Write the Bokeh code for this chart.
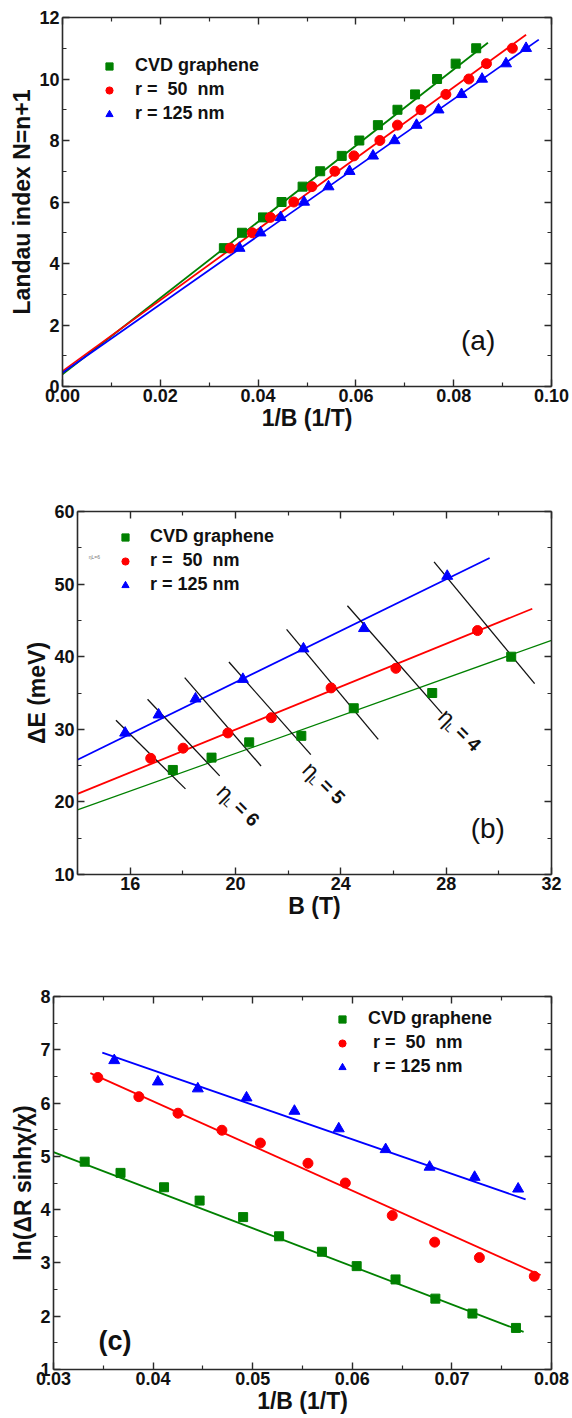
import math
from bokeh.plotting import figure
from bokeh.models import (LinearAxis, Range1d, Legend, LegendItem, Label,
                          CustomJSTickFormatter, FixedTicker, PrintfTickFormatter)
from bokeh.layouts import column
from bokeh.embed import file_html
from bokeh.resources import INLINE

FONT = "Liberation Sans"
GREEN = "#008000"
RED = "#ff0000"
BLUE = "#0000ff"
AXC = "#2a2a2a"

# ---------------- Panel (a) data ----------------
a_levels = [4.5, 5.0, 5.5, 6.0, 6.5, 7.0, 7.5, 8.0, 8.5, 9.0, 9.5, 10.0, 10.5, 11.0]
a_cvd_x = [0.0330, 0.0367, 0.0410, 0.0448, 0.0491, 0.0527, 0.0571, 0.0607,
           0.0645, 0.0685, 0.0721, 0.0766, 0.0804, 0.0846]
a_r50_x = [0.0343, 0.0388, 0.0425, 0.0473, 0.0510, 0.0557, 0.0596, 0.0649,
           0.0685, 0.0733, 0.0784, 0.0831, 0.0867, 0.0920]
a_r125_x = [0.0362, 0.0405, 0.0446, 0.0494, 0.0544, 0.0587, 0.0635, 0.0679,
            0.0724, 0.0769, 0.0816, 0.0858, 0.0907, 0.0948]
# linear fits: N = intercept + slope * (1/B), drawn from 0 to xmax
a_fit_slope = [123.9, 115.4, 111.2]
a_fit_intercept = [0.40, 0.50, 0.45]
a_fit_xmax = [0.0870, 0.0948, 0.0974]

# ---------------- Panel (b) data ----------------
b_cvd_x = [17.62, 19.09, 20.52, 22.50, 24.49, 27.47, 30.47]
b_cvd_y = [24.4, 26.1, 28.2, 29.1, 32.9, 35.0, 40.0]
b_r50_x = [16.78, 18.01, 19.71, 21.36, 23.63, 26.09, 29.19]
b_r50_y = [26.0, 27.4, 29.5, 31.6, 35.7, 38.4, 43.6]
b_r125_x = [15.81, 17.08, 18.48, 20.28, 22.58, 24.88, 28.04]
b_r125_y = [29.5, 32.0, 34.2, 36.9, 41.1, 43.9, 51.1]
b_fit_slope = [1.297, 1.477, 1.776]
b_fit_intercept = [0.74, 0.42, 0.94]
b_fit_xmin = [14.0, 14.0, 14.0]
b_fit_xmax = [32.0, 31.27, 29.65]
# black filling-factor lines
nl_x0 = [15.46, 16.66, 18.07, 19.75, 21.94, 24.25, 27.54]
nl_y0 = [31.24, 34.13, 37.11, 39.27, 43.76, 47.02, 53.07]
nl_x1 = [18.10, 19.40, 20.97, 22.86, 25.42, 27.85, 31.36]
nl_y1 = [21.79, 23.58, 24.95, 26.51, 28.62, 32.16, 36.28]
nl_text = ["6", "5", "4"]
nl_text_x = [19.45, 22.70, 27.86]
nl_text_y = [21.95, 25.00, 32.30]

# ---------------- Panel (c) data ----------------
c_cvd_x = [0.03313, 0.03673, 0.04110, 0.04467, 0.04904, 0.05265, 0.05695,
           0.06044, 0.06434, 0.06834, 0.07206, 0.07643]
c_cvd_y = [4.90, 4.69, 4.42, 4.17, 3.86, 3.50, 3.21, 2.94, 2.69, 2.33, 2.05, 1.78]
c_r50_x = [0.03445, 0.03857, 0.04250, 0.04691, 0.05077, 0.05555, 0.05930,
           0.06401, 0.06827, 0.07276, 0.07827]
c_r50_y = [6.48, 6.12, 5.81, 5.49, 5.25, 4.87, 4.50, 3.89, 3.39, 3.10, 2.75]
c_r125_x = [0.03610, 0.04048, 0.04449, 0.04938, 0.05419, 0.05864, 0.06335,
            0.06776, 0.07228, 0.07665]
c_r125_y = [6.80, 6.40, 6.27, 6.10, 5.85, 5.52, 5.13, 4.80, 4.61, 4.39]
c_fit_slope = [-71.5, -83.9, -64.8]
c_fit_intercept = [7.226, 9.390, 9.207]
c_fit_xmin = [0.0300, 0.0337, 0.0349]
c_fit_xmax = [0.0772, 0.0789, 0.0774]

legend_labels_ab = ["CVD graphene", "r =\u00a0 50\u00a0 nm", "r = 125 nm"]
legend_labels_c = ["CVD graphene", "\u00a0r =\u00a0 50\u00a0 nm", "\u00a0r = 125 nm"]


def style_axis(ax, ticker, labels=True, fmt=None):
    ax.ticker = ticker
    ax.axis_line_color = AXC
    ax.axis_line_width = 1.6
    ax.major_tick_line_color = AXC
    ax.major_tick_line_width = 1.4
    ax.minor_tick_line_color = AXC
    ax.minor_tick_line_width = 1.2
    ax.major_tick_in = 7
    ax.major_tick_out = 0
    ax.minor_tick_in = 4
    ax.minor_tick_out = 0
    if labels:
        ax.major_label_text_font = FONT
        ax.major_label_text_font_style = "bold"
        ax.major_label_text_font_size = "18px"
        ax.major_label_text_color = "#111111"
        ax.major_label_standoff = 3
        ax.axis_label_text_font = FONT
        ax.axis_label_text_font_style = "bold"
        ax.axis_label_text_font_size = "23px"
        ax.axis_label_text_color = "#111111"
        ax.axis_label_standoff = 1
        if fmt is not None:
            ax.formatter = fmt
    else:
        ax.formatter = CustomJSTickFormatter(code="return ''")
        ax.major_label_text_font_size = "1px"
        ax.major_label_standoff = 0


def make_fig(xr, yr, xt, yt, xfmt, borders, h, xlabel, ylabel):
    bl, br, bt, bb = borders
    p = figure(width=572, height=h, x_range=Range1d(*xr), y_range=Range1d(*yr),
               output_backend="svg", toolbar_location=None,
               min_border_left=bl, min_border_right=br,
               min_border_top=bt, min_border_bottom=bb,
               x_axis_label=xlabel, y_axis_label=ylabel)
    try:
        p.frame_align = False
    except Exception:
        pass
    p.xgrid.visible = False
    p.ygrid.visible = False
    p.outline_line_color = None
    p.background_fill_color = "white"
    p.border_fill_color = "white"
    style_axis(p.xaxis[0], FixedTicker(ticks=xt[0], minor_ticks=xt[1]), True, xfmt)
    style_axis(p.yaxis[0], FixedTicker(ticks=yt[0], minor_ticks=yt[1]), True, None)
    p.xaxis[0].axis_label_standoff = 0
    p.xaxis[0].major_label_standoff = 2
    top = LinearAxis()
    style_axis(top, FixedTicker(ticks=xt[0], minor_ticks=xt[1]), False)
    p.add_layout(top, "above")
    right = LinearAxis()
    style_axis(right, FixedTicker(ticks=yt[0], minor_ticks=yt[1]), False)
    p.add_layout(right, "right")
    return p


def add_legend(p, renderers, labels, loc, standoff):
    items = [LegendItem(label=l, renderers=[r]) for l, r in zip(labels, renderers)]
    lg = Legend(items=items, location=loc, border_line_alpha=0,
                background_fill_alpha=0, padding=0, margin=0, spacing=3,
                glyph_width=20, glyph_height=18, label_height=18,
                label_standoff=standoff, label_text_font=FONT,
                label_text_font_style="bold", label_text_font_size="18px",
                label_text_color="#111111")
    p.add_layout(lg)


def fit_line(p, x0, x1, k, b, color, width):
    xs = [x0, x1]
    ys = [b + k * x for x in xs]
    p.line(xs, ys, line_color=color, line_width=width)


# ================= Figure (a) =================
# page rows 0..450 ; frame: left 62, right 551, top 17, bottom 386
pa = make_fig((0.0, 0.10), (0, 12),
              ([0, 0.02, 0.04, 0.06, 0.08, 0.10], [0.01, 0.03, 0.05, 0.07, 0.09]),
              ([0, 2, 4, 6, 8, 10, 12], [1, 3, 5, 7, 9, 11]),
              PrintfTickFormatter(format="%.2f"),
              (62, 21, 17, 64), 450, "1/B (1/T)", "Landau index N=n+1")
for k, b, xm, c in zip(a_fit_slope, a_fit_intercept, a_fit_xmax, [GREEN, RED, BLUE]):
    fit_line(pa, 0.0, xm, k, b, c, 1.8)
ra1 = pa.scatter(a_cvd_x, a_levels, marker="square", size=9, color=GREEN)
ra2 = pa.scatter(a_r50_x, a_levels, marker="circle", size=10, color=RED)
ra3 = pa.scatter(a_r125_x, a_levels, marker="triangle", size=11, color=BLUE)
add_legend(pa, [ra1, ra2, ra3], legend_labels_ab, (37, 262), 16)
pa.add_layout(Label(x=0.085, y=1.5, text="(a)", text_align="center",
                    text_baseline="middle", text_font=FONT,
                    text_font_size="28px", text_color="#111111"))

# ================= Figure (b) =================
# page rows 450..940 ; frame: left 77, right 551, top 511, bottom 874
pb = make_fig((14, 32), (10, 60),
              ([16, 20, 24, 28, 32], [14, 18, 22, 26, 30]),
              ([10, 20, 30, 40, 50, 60], [15, 25, 35, 45, 55]),
              None,
              (77, 21, 61, 66), 490, "B (T)", "ΔE (meV)")
for k, b, x0, x1, c, w in zip(b_fit_slope, b_fit_intercept, b_fit_xmin, b_fit_xmax,
                              [GREEN, RED, BLUE], [1.2, 1.8, 1.8]):
    fit_line(pb, x0, x1, k, b, c, w)
pb.segment(nl_x0, nl_y0, nl_x1, nl_y1, line_color="#111111", line_width=1.3)
rb1 = pb.scatter(b_cvd_x, b_cvd_y, marker="square", size=9, color=GREEN)
rb2 = pb.scatter(b_r50_x, b_r50_y, marker="circle", size=10, color=RED)
rb3 = pb.scatter(b_r125_x, b_r125_y, marker="triangle", size=11, color=BLUE)
add_legend(pb, [rb1, rb2, rb3], legend_labels_ab, (38, 279), 15)

th = -math.pi / 4
dx, dy = math.cos(th), math.sin(th)
ddx, ddy = math.sin(th), -math.cos(th)
for t, x, y in zip(nl_text, nl_text_x, nl_text_y):
    pb.add_layout(Label(x=x, y=y, text="η", angle=th, text_align="left",
                        text_baseline="middle", text_font=FONT,
                        text_font_size="23px", text_color="#111111"))
    pb.add_layout(Label(x=x, y=y, x_offset=dx * 12 + ddx * 6, y_offset=dy * 12 + ddy * 6,
                        text="L", angle=th, text_align="left", text_baseline="middle",
                        text_font=FONT, text_font_size="12px", text_color="#111111"))
    pb.add_layout(Label(x=x, y=y, x_offset=dx * 23, y_offset=dy * 23,
                        text="= " + t, angle=th, text_align="left", text_baseline="middle",
                        text_font=FONT, text_font_style="bold",
                        text_font_size="19px", text_color="#111111"))
pb.add_layout(Label(x=14.64, y=53.8, text="ηL=6", text_align="center",
                    text_baseline="middle", text_font=FONT,
                    text_font_size="5px", text_color="#777777"))
pb.add_layout(Label(x=29.58, y=16.33, text="(b)", text_align="center",
                    text_baseline="middle", text_font=FONT,
                    text_font_size="28px", text_color="#111111"))

# ================= Figure (c) =================
# page rows 940..1418 ; frame: left 53, right 551, top 996, bottom 1369
pc = make_fig((0.03, 0.08), (1, 8),
              ([0.03, 0.04, 0.05, 0.06, 0.07, 0.08], [0.035, 0.045, 0.055, 0.065, 0.075]),
              ([1, 2, 3, 4, 5, 6, 7, 8], [1.5, 2.5, 3.5, 4.5, 5.5, 6.5, 7.5]),
              PrintfTickFormatter(format="%.2f"),
              (53, 21, 56, 49), 478, "1/B (1/T)", "ln(ΔR sinhχ/χ)")
for k, b, x0, x1, c in zip(c_fit_slope, c_fit_intercept, c_fit_xmin, c_fit_xmax,
                           [GREEN, RED, BLUE]):
    fit_line(pc, x0, x1, k, b, c, 1.8)
rc1 = pc.scatter(c_cvd_x, c_cvd_y, marker="square", size=9, color=GREEN)
rc2 = pc.scatter(c_r50_x, c_r50_y, marker="circle", size=10, color=RED)
rc3 = pc.scatter(c_r125_x, c_r125_y, marker="triangle", size=11, color=BLUE)
add_legend(pc, [rc1, rc2, rc3], legend_labels_c, (279, 292), 16)
pc.add_layout(Label(x=0.03618, y=1.534, text="(c)", text_align="center",
                    text_baseline="middle", text_font=FONT, text_font_style="bold",
                    text_font_size="27px", text_color="#111111"))

layout = column(pa, pb, pc, spacing=0)
open("out.html", "w").write(file_html(layout, INLINE))
